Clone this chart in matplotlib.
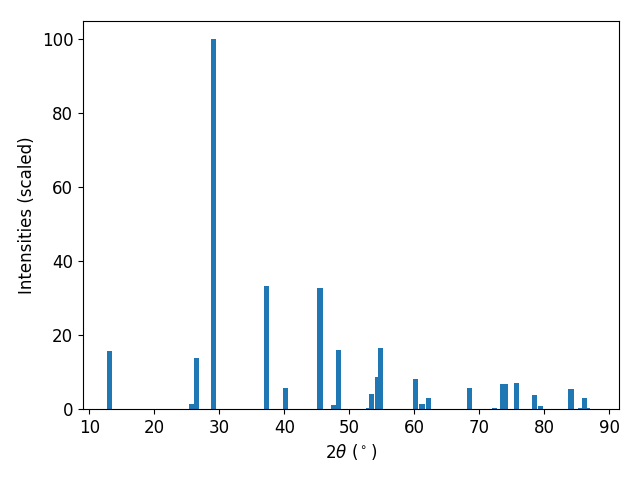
import matplotlib
matplotlib.use("Agg")
import matplotlib.pyplot as plt

two_theta = [13.1, 25.8, 26.5, 29.1, 37.3, 40.2, 45.5, 47.6, 48.3, 53.0, 53.4,
             54.3, 54.8, 60.2, 61.2, 62.2, 68.5, 72.3, 73.6, 74.0, 75.7,
             78.5, 79.4, 84.1, 85.6, 86.2, 86.7]
intensity = [15.7, 1.3, 13.8, 100.0, 33.3, 5.7, 32.8, 1.1, 16.0, 0.3, 4.1,
             8.7, 16.5, 8.1, 1.4, 3.0, 5.7, 0.3, 6.8, 6.8, 7.0,
             3.8, 0.8, 5.4, 0.3, 2.9, 0.3]

plt.rcParams['font.size'] = 12
fig, ax = plt.subplots(figsize=(6.4, 4.8), dpi=100)
ax.bar(two_theta, intensity, width=0.8, color='#1f77b4')
ax.set_xlim(9.03, 91.5)
ax.set_ylim(0, 105)
ax.set_xlabel(r'$2\theta$ ($^\circ$)')
ax.set_ylabel('Intensities (scaled)')
fig.subplots_adjust(left=83/640, right=619/640, bottom=71/480, top=459/480)
fig.savefig('out.png', dpi=100)
